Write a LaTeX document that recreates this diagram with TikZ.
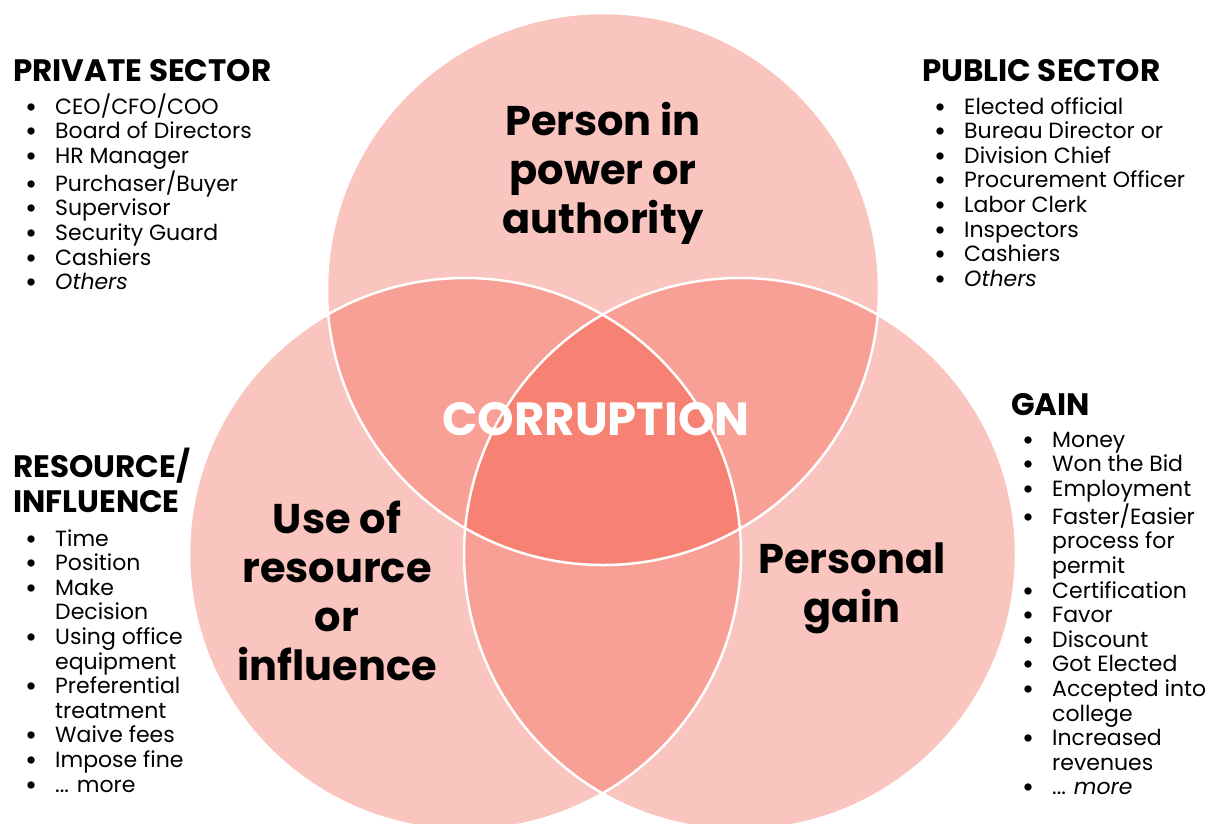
\documentclass[tikz,border=0pt]{standalone}
\usepackage{fontspec}
\setmainfont{Poppins}
\usetikzlibrary{positioning}
\definecolor{pinkone}{HTML}{F9C5BE}
\definecolor{pinktwo}{HTML}{F8A095}
\definecolor{pinkthree}{HTML}{F78274}
\newcommand{\bul}{\raisebox{-1pt}{\fontsize{24}{24}\selectfont\bfseries •}}
\newcommand{\itemlist}[1]{\fontsize{22}{24.6}\selectfont\begin{tabular}[t]{@{}l@{\hspace{18pt}}l@{}}#1\end{tabular}}
\newcommand{\vennlines}[1]{\begin{tabular}[t]{@{}c@{}}#1\end{tabular}}
\begin{document}
\begin{tikzpicture}[x=1pt,y=-1pt,
	head/.style={anchor=base west,inner sep=0pt,font=\fontsize{31}{35}\selectfont\bfseries},
	list/.style={anchor=base west,inner sep=0pt},
	venntext/.style={anchor=base,inner sep=0pt,font=\fontsize{41.5}{49}\selectfont\bfseries}]
	\useasboundingbox (0,0) rectangle (1210,823);
	\clip (0,0) rectangle (1210,823);
	\fill[white] (0,0) rectangle (1210,823);
	\coordinate (powerc) at (603,289);
	\coordinate (resourcec) at (465,554);
	\coordinate (gainc) at (740,554);
	\fill[pinkone] (powerc) circle (276pt);
	\fill[pinkone] (resourcec) circle (276pt);
	\fill[pinkone] (gainc) circle (276pt);
	\begin{scope}
		\clip (resourcec) circle (276pt);
		\fill[pinktwo] (gainc) circle (276pt);
	\end{scope}
	\begin{scope}
		\clip (powerc) circle (276pt);
		\fill[pinktwo] (resourcec) circle (276pt);
		\fill[pinktwo] (gainc) circle (276pt);
		\clip (resourcec) circle (276pt);
		\fill[pinkthree] (gainc) circle (276pt);
	\end{scope}
	\draw[white,line width=2.5pt] (powerc) circle (276pt);
	\draw[white,line width=2.5pt] (resourcec) circle (276pt);
	\draw[white,line width=2.5pt] (gainc) circle (276pt);
	\node[venntext] (power) at (603,135) {\vennlines{Person in\\power or\\authority}};
	\node[venntext] (resource) at (337,533) {\vennlines{Use of\\resource\\or\\influence}};
	\node[venntext] (gain) at (852,573) {\vennlines{Personal\\gain}};
	\node[venntext,text=white,font=\fontsize{46.5}{49}\selectfont\bfseries] (corruption) at (596,435) {CORRUPTION};
	\node[head] (privhead) at (13,81) {PRIVATE SECTOR};
	\node[list] (privlist) at (25,114) {\itemlist{\bul & CEO/CFO/COO\\ \bul & Board of Directors\\ \bul & HR Manager\\ \bul & Purchaser/Buyer\\ \bul & Supervisor\\ \bul & Security Guard\\ \bul & Cashiers\\ \bul & \textit{Others}}};
	\node[head] (pubhead) at (922,81) {PUBLIC SECTOR};
	\node[list] (publist) at (934,114) {\itemlist{\bul & Elected official\\ \bul & Bureau Director or\\ \bul & Division Chief\\ \bul & Procurement Officer\\ \bul & Labor Clerk\\ \bul & Inspectors\\ \bul & Cashiers\\ \bul & \textit{Others}}};
	\node[head,align=left] (reshead) at (13,477) {\begin{tabular}[t]{@{}l@{}}RESOURCE/\\INFLUENCE\end{tabular}};
	\node[list] (reslist) at (25,546) {\itemlist{\bul & Time\\ \bul & Position\\ \bul & Make\\ & Decision\\ \bul & Using office\\ & equipment\\ \bul & Preferential\\ & treatment\\ \bul & Waive fees\\ \bul & Impose fine\\ \bul & ... more}};
	\node[head] (gainhead) at (1011,415) {GAIN};
	\node[list] (gainlist) at (1022,447) {\itemlist{\bul & Money\\ \bul & Won the Bid\\ \bul & Employment\\ \bul & Faster/Easier\\ & process for\\ & permit\\ \bul & Certification\\ \bul & Favor\\ \bul & Discount\\ \bul & Got Elected\\ \bul & Accepted into\\ & college\\ \bul & Increased\\ & revenues\\ \bul & ... \textit{more}}};
\end{tikzpicture}
\end{document}
